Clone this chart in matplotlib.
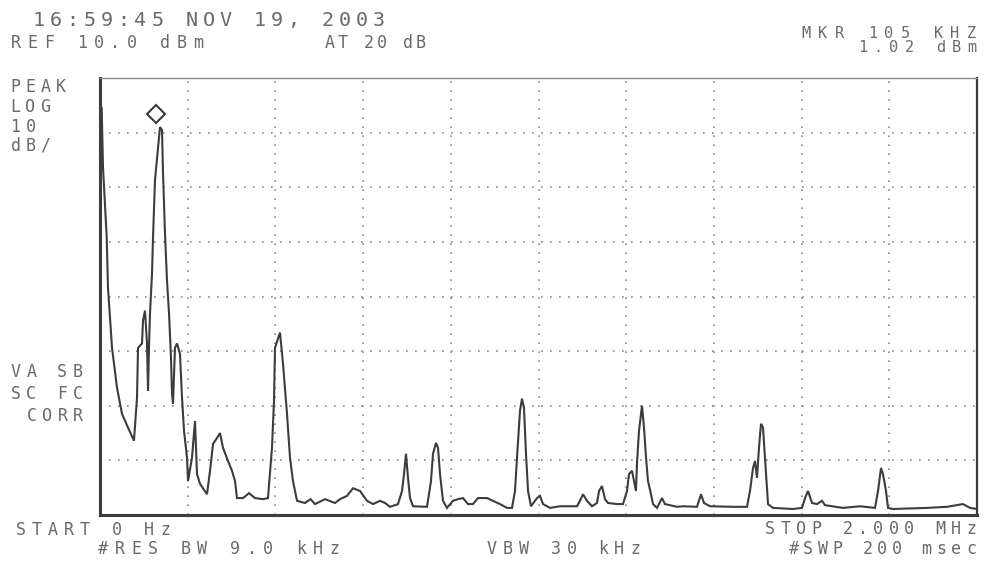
import matplotlib
matplotlib.use("Agg")
import matplotlib.pyplot as plt
import numpy as np

# Spectrum analyzer trace: frequency (kHz) and level (dBm)
freq_khz = [
    0, 1.0, 3.9, 6.8, 15.3, 18.2, 27.4, 38.8, 50.2, 63.9, 77.5, 84.4, 86.7,
    95.8, 98.1, 102.6, 107.2, 109.5, 111.7, 114.0, 118.6, 120.9, 125.4, 132.3,
    136.8, 141.4, 143.7, 148.2, 152.8, 157.4, 161.9, 164.2, 166.5, 171.0,
    175.6, 182.4, 187.0, 191.6, 198.4, 200.7, 209.8, 216.6, 221.2, 228.1,
    234.9, 244.0, 250.9, 257.7, 266.8, 273.7, 280.5, 291.9, 301.0, 307.9,
    312.4, 326.1, 339.8, 353.5, 371.7, 383.1, 392.2, 396.8, 399.1, 410.5,
    417.3, 426.5, 433.3, 440.1, 449.3, 467.5, 480.0, 490.4, 513.1, 535.9,
    547.3, 563.3, 577.0, 592.9, 608.9, 622.6, 638.5, 649.9, 661.3, 679.6,
    688.7, 693.3, 697.8, 702.4, 707.0, 713.8, 745.7, 754.8, 759.4, 766.2,
    770.8, 775.4, 782.2, 791.3, 805.0, 816.4, 827.8, 839.2, 850.6, 862.0,
    882.6, 896.2, 912.2, 928.2, 939.6, 946.4, 951.0, 957.8, 962.4, 966.9,
    971.5, 976.1, 982.9, 996.6, 1003.4, 1010.3, 1026.2, 1049.0, 1087.8,
    1094.6, 1101.5, 1110.6, 1122.0, 1133.4, 1138.0, 1144.8, 1151.7, 1158.5,
    1179.0, 1192.7, 1201.8, 1206.4, 1213.2, 1217.8, 1222.3, 1224.6, 1229.2,
    1236.0, 1240.6, 1245.2, 1249.7, 1256.6, 1261.1, 1270.3, 1281.7, 1288.5,
    1315.9, 1329.5, 1361.5, 1370.6, 1377.4, 1391.1, 1443.6, 1475.5, 1482.3,
    1489.2, 1493.7, 1498.3, 1502.8, 1507.4, 1512.0, 1518.8, 1523.4, 1534.8,
    1580.4, 1600.9, 1607.8, 1614.6, 1623.7, 1635.1, 1646.5, 1653.4, 1694.4,
    1733.2, 1767.4, 1774.3, 1781.1, 1785.6, 1792.5, 1797.0, 1808.4, 1885.9,
    1931.6, 1968.0, 1984.0, 2000.0,
]
level_dbm = [
    -69.0, 5.0, 4.5, -6.3, -19.2, -28.4, -39.4, -46.7, -51.5, -54.0, -56.4,
    -48.5, -39.4, -38.6, -34.4, -32.6, -38.6, -47.3, -39.4, -33.1, -25.8,
    -19.2, -8.7, -2.7, 1.0, 0.5, -7.4, -18.4, -27.1, -33.1, -41.2, -47.8,
    -49.6, -39.4, -38.6, -40.5, -48.5, -54.6, -59.5, -63.8, -59.5, -52.8,
    -62.5, -64.3, -65.1, -66.2, -61.9, -57.0, -55.9, -55.0, -57.7, -60.1,
    -61.9, -63.8, -66.9, -66.9, -66.0, -66.9, -67.1, -66.9, -57.7, -49.1,
    -39.4, -36.6, -42.3, -51.5, -59.5, -63.8, -67.4, -67.8, -67.1, -68.0,
    -67.1, -67.8, -67.1, -66.5, -65.1, -65.6, -67.4, -68.0, -67.4, -67.8,
    -68.5, -68.0, -65.6, -62.5, -58.8, -63.2, -66.9, -68.4, -68.5, -63.8,
    -58.8, -56.8, -57.7, -62.5, -67.4, -68.7, -67.4, -67.1, -66.9, -68.0,
    -68.0, -66.9, -66.9, -67.4, -68.0, -68.7, -68.7, -65.6, -59.5, -50.9,
    -48.7, -50.4, -58.8, -65.6, -68.4, -66.9, -66.5, -68.0, -68.7, -68.4,
    -68.4, -67.4, -66.2, -67.4, -68.4, -67.8, -65.6, -64.7, -67.1, -67.8,
    -68.0, -68.0, -65.6, -62.5, -61.9, -63.8, -65.6, -60.6, -54.6, -50.0,
    -54.0, -59.5, -63.8, -66.2, -68.0, -68.7, -66.9, -68.0, -68.5, -68.4,
    -68.5, -66.2, -67.8, -68.4, -68.5, -68.5, -65.6, -61.4, -60.1, -63.2,
    -57.7, -53.3, -54.0, -62.5, -68.0, -68.7, -68.9, -68.7, -66.9, -65.6,
    -67.8, -68.0, -67.4, -68.2, -68.7, -68.4, -68.7, -65.6, -61.4, -62.5,
    -65.6, -68.7, -68.9, -68.7, -68.5, -68.0, -68.7, -68.9,
]

ref_level = 10.0
db_per_div = 10
start_khz, stop_khz = 0, 2000

# screen annotations: (text, x px, y px, pitch px, size)
header_lines = [
    ("16:59:45 NOV 19, 2003", 30, 20, 17.0, 14.5),
    ("REF 10.0 dBm", 8, 43, 16.5, 12),
    ("AT 20 dB", 323, 43, 13.0, 12),
    ("MKR 105 KHZ", 798, 33, 16.5, 11),
    ("1.02 dBm", 855, 48, 15.6, 11),
]
side_lines = [
    ("PEAK", 8, 87, 15.0, 12),
    ("LOG", 8, 107, 15.0, 12),
    ("10", 8, 127, 15.0, 12),
    ("dB/", 8, 146, 15.0, 12),
    ("VA SB", 8, 372, 15.5, 12),
    ("SC FC", 8, 394, 15.5, 12),
    ("CORR", 24, 416, 15.5, 12),
]
footer_lines = [
    ("START 0 Hz", 13, 530, 16.0, 12),
    ("#RES BW 9.0 kHz", 95, 549, 16.5, 12),
    ("VBW 30 kHz", 484, 549, 15.9, 12),
    ("STOP 2.000 MHz", 762, 529, 15.5, 12),
    ("#SWP 200 msec", 786, 549, 14.8, 12),
]

W, H = 994, 569
ink = "#3c3c3c"
text_ink = "#6a6a6a"

fig = plt.figure(figsize=(W / 100, H / 100), dpi=100)
fig.patch.set_facecolor("white")
ax = fig.add_axes([100 / W, 1 - 515 / H, 877 / W, 437 / H])

ax.plot(freq_khz, level_dbm, color=ink, lw=1.5, solid_joinstyle="miter")

# marker diamond sits just above the highest signal peak
freq = np.array(freq_khz)
lvl = np.array(level_dbm)
i_pk = np.argmax(np.where(freq > 50, lvl, -999))
ax.plot(freq[i_pk] - 8, lvl[i_pk] + 2.5, marker="D", ms=9, mfc="white",
        mec=ink, mew=1.5, clip_on=False)

ax.set_xlim(start_khz, stop_khz)
ax.set_ylim(ref_level - 8 * db_per_div, ref_level)
ax.set_xticks(np.linspace(start_khz, stop_khz, 11))
ax.set_yticks(np.arange(ref_level - 8 * db_per_div, ref_level + 1, db_per_div))
ax.grid(True, color="#8a8a8a", lw=1.2, linestyle=(0, (1, 4.4)))
ax.tick_params(length=0, labelbottom=False, labelleft=False)
for side, lw, c in [("left", 2.2, ink), ("bottom", 2.2, ink),
                    ("right", 1.6, ink), ("top", 1.0, "#8a8a8a")]:
    ax.spines[side].set_linewidth(lw)
    ax.spines[side].set_color(c)


def dot_text(s, x0, y, pitch, size):
    # printer text: one character per fixed cell
    for k, ch in enumerate(s):
        if ch == " ":
            continue
        fig.text((x0 + k * pitch + pitch / 2) / W, 1 - y / H, ch,
                 ha="center", va="center", fontsize=size,
                 family="DejaVu Sans Mono", color=text_ink)


for s, x0, y, p, sz in header_lines + side_lines + footer_lines:
    dot_text(s, x0, y, p, sz)

fig.savefig("out.png", dpi=100, facecolor="white")
